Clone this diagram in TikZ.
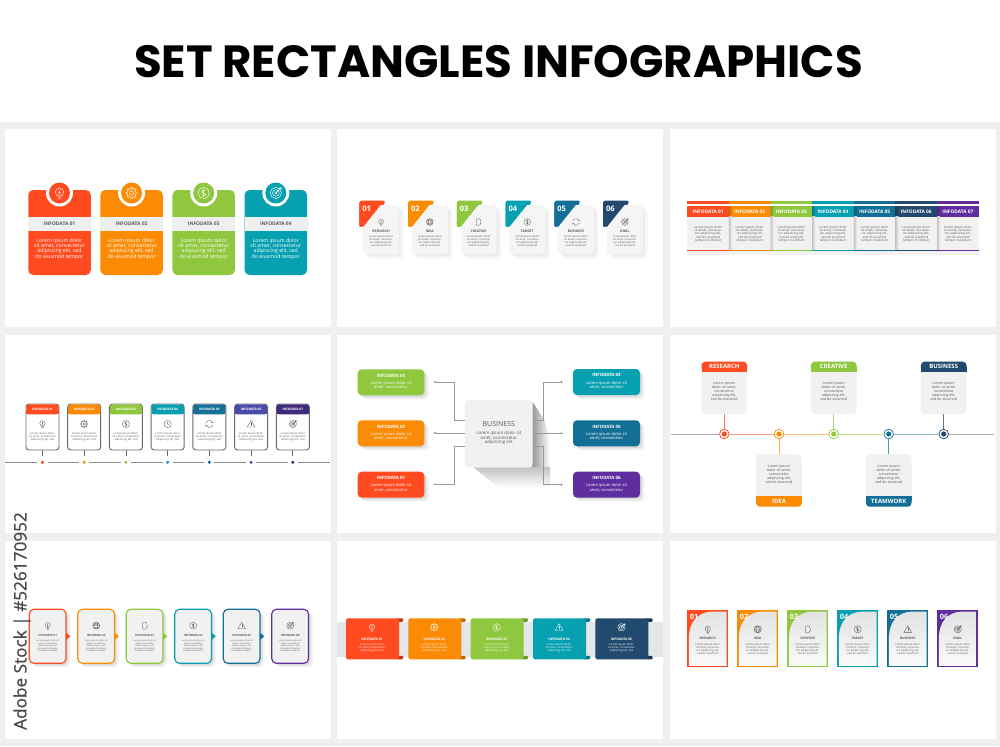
\documentclass[tikz,border=0pt]{standalone}
\usepackage{fontspec}
\setmainfont{Open Sans}
\newfontfamily\titlef{Poppins}
\newfontfamily\stockf[FakeBold=0.6]{Open Sans}
\usetikzlibrary{calc}
\definecolor{cred}{HTML}{FF4B1F}
\definecolor{corange}{HTML}{FB8B05}
\definecolor{cgreen}{HTML}{8FC73E}
\definecolor{cteal}{HTML}{06A0B0}
\definecolor{cblue}{HTML}{146F96}
\definecolor{cnavy}{HTML}{224A6E}
\definecolor{cindigo}{HTML}{4B4BA8}
\definecolor{cpurple}{HTML}{5E2E9E}
\definecolor{cdpurple}{HTML}{3F2A7A}
\definecolor{cgutter}{HTML}{EFEFEF}
\definecolor{cpale}{HTML}{F1F1F1}
\definecolor{cstrip}{HTML}{E4E6E8}
\definecolor{ctxt}{HTML}{5A5A5A}
\newcommand\fz[2]{\fontsize{#1}{#2}\selectfont}
% icons: unit radius, y points down
\newcommand\icbulb{\draw (0,-.15) circle[radius=.75]; \draw (-.35,.8)--(.35,.8) (-.22,1.05)--(.22,1.05) (.12,-.55)--(-.12,-.1)--(.12,-.1)--(-.1,.3);}
\newcommand\icgear{\draw (0,0) circle[radius=.36]; \foreach \a in {0,45,...,315}{\draw[line cap=round,line join=round] ({\a-22.5}:.74) -- ({\a-11}:.74) -- ({\a-8}:1.02) -- ({\a+8}:1.02) -- ({\a+11}:.74) -- ({\a+22.5}:.74);}}
\newcommand\icdollar{\draw (0,0) circle[radius=1]; \draw (.32,-.35) .. controls (.1,-.6) and (-.4,-.5) .. (-.35,-.2) .. controls (-.3,.05) and (.35,-.05) .. (.35,.25) .. controls (.35,.55) and (-.2,.55) .. (-.35,.3) (0,-.7)--(0,.7);}
\newcommand\ictarget{\draw (0,0) circle[radius=1] (0,0) circle[radius=.6] (0,0) circle[radius=.22]; \draw (0,0)--(1,-1) (.7,-1.05)--(.75,-.75)--(1.05,-.7);}
\newcommand\icglobe{\draw (0,0) circle[radius=1] (0,0) ellipse[x radius=.45,y radius=1] (-1,0)--(1,0) (-.88,-.45)--(.88,-.45) (-.88,.45)--(.88,.45);}
\newcommand\icclock{\draw (0,0) circle[radius=1]; \draw (0,-.6)--(0,0)--(.4,.3);}
\newcommand\icrefresh{\draw (.95,.3) arc[start angle=18,end angle=150,radius=1]; \draw (-.95,-.3) arc[start angle=198,end angle=330,radius=1]; \draw (-1.15,.25)--(-.87,.5)--(-.55,.3) (1.15,-.25)--(.87,-.5)--(.55,-.3);}
\newcommand\icwarn{\draw[line join=round] (0,-1)--(1.1,.85)--(-1.1,.85)--cycle; \draw (0,-.35)--(0,.25) (0,.5)--(0,.55);}
\newcommand\icdoc{\draw[rounded corners=.8pt] (-.6,1)--(-.7,-.2) .. controls (-.7,-1.2) and (.6,-1.2) .. (.65,-.2)--(.8,.45)--(.45,.5)--(.4,1)--cycle;}
% \icn{type}{x}{y}{size}{colour}{line width}
\newcommand\icn[6]{\begin{scope}[shift={(#2,#3)},scale=#4,color=#5,line width=#6,line cap=round]\csname ic#1\endcsname\end{scope}}
\tikzset{
 cardbox/.style={rectangle,inner sep=0pt,outer sep=0pt,anchor=north west},
 txt/.style={inner sep=0pt,outer sep=0pt,align=center,text=ctxt},
 softshadow/.style={
  preaction={fill=black,fill opacity=.04,transform canvas={xshift=4.5pt,yshift=-4pt}},
  preaction={fill=black,fill opacity=.05,transform canvas={xshift=3pt,yshift=-3pt}},
  preaction={fill=black,fill opacity=.06,transform canvas={xshift=1.5pt,yshift=-1.5pt}}},
 lightshadow/.style={
  preaction={fill=black,fill opacity=.02,transform canvas={xshift=5pt,yshift=-5pt}},
  preaction={fill=black,fill opacity=.025,transform canvas={xshift=3.5pt,yshift=-3.5pt}},
  preaction={fill=black,fill opacity=.03,transform canvas={xshift=2pt,yshift=-2pt}}},
 panelbox/.style={fill=white,draw=none},
}
\begin{document}
\begin{tikzpicture}[x=1pt,y=-1pt]
\useasboundingbox (0,0) rectangle (1000,746);
\fill[white] (0,0) rectangle (1000,746);
\fill[cgutter] (0,122) rectangle (1000,746);
\foreach \px/\py in {5/129,337/129,670/129,5/335,337/335,670/335,5/541,337/541,670/541}{
 \fill[panelbox] (\px,\py) rectangle ++(326,198);
}
\node[inner sep=0pt] (title) at (498.5,61.5) {\titlef\bfseries\fz{45.1}{50}SET RECTANGLES INFOGRAPHICS};

% ---------- panel 1
\foreach \i/\cc/\ic in {1/cred/bulb,2/corange/gear,3/cgreen/dollar,4/cteal/target}{
 \pgfmathsetmacro\xc{59.5+72.1*(\i-1)}
 \node[cardbox,fill=\cc,rounded corners=5pt,minimum width=62.5pt,minimum height=85pt] (ac\i) at (\xc-31.25,190) {};
 \fill[cgutter] (\xc-31.25,217.3) rectangle (\xc+31.25,231);
 \node[circle,fill=white,inner sep=0pt,minimum size=27pt] (ar\i) at (\xc,193) {};
 \node[circle,fill=\cc,inner sep=0pt,minimum size=21pt] (ai\i) at (\xc,193) {};
 \icn{\ic}{\xc}{193}{5.6}{white}{.45pt}
 \node[txt,font=\bfseries\fz{4.9}{6}] (al\i) at (\xc,224) {INFODATA 0\i};
 \node[txt,text=white,font=\fz{5.2}{5.33}] (at\i) at (\xc,248.7) {Lorem ipsum dolor\\sit amet, consectetur\\adipiscing elit, sed\\do eiusmod tempor};
}

% ---------- panel 2
\foreach \i/\cc/\ic/\lab in {1/cred/bulb/RESEARCH,2/corange/globe/IDEA,3/cgreen/doc/CREATIVE,4/cteal/dollar/TARGET,5/cblue/refresh/BUSINESS,6/cnavy/target/GOAL}{
 \pgfmathsetmacro\xo{359.3+48.75*(\i-1)}
 \pgfmathsetmacro\xm{\xo+21.7}
 \fill[\cc,rounded corners=1.5pt] (\xo,200.7) -- (\xo+25.8,200.7) -- (\xo+25.8,203) -- (\xo+4.3,226.7) -- (\xo,226.7) -- cycle;
 \node[cardbox,fill=cpale!70!white,rounded corners=3pt,lightshadow,minimum width=36pt,minimum height=49pt] (bc\i) at (\xo+3.7,205) {};
 \fill[\cc] (\xo,203) -- (\xo+23,203) -- (\xo+4,226.7) -- (\xo,226.7) -- cycle;
 \node[txt,text=white,font=\bfseries\fz{7.6}{9}] (bn\i) at (\xo+7.4,209) {0\i};
 \icn{\ic}{\xm}{222}{3.4}{ctxt}{.3pt}
 \node[txt,font=\bfseries\fz{3.4}{4}] (bl\i) at (\xm,231) {\lab};
 \node[txt,font=\fz{2.7}{3}] (bt\i) at (\xm,241) {Lorem ipsum dolor\\sit amet, consecte-\\tur adipiscing elit,\\sed do eiusmod};
}

% ---------- panel 3
\foreach \i/\cc in {1/cred,2/corange,3/cgreen,4/cteal,5/cblue,6/cnavy,7/cpurple}{
 \pgfmathsetmacro\xo{687.3+41.63*(\i-1)}
 \pgfmathsetmacro\xm{\xo+20.8}
 \fill[cpale] (\xo,216.7) rectangle ++(41.63,38);
 \fill[\cc] (\xo,200.7) rectangle ++(41.63,3.3);
 \fill[\cc] (\xo,249.6) rectangle ++(41.63,1.3);
 \node[cardbox,fill=\cc,minimum width=41.63pt,minimum height=10.7pt] (ch\i) at (\xo,206) {};
 \ifnum\i>1
  \shade[left color=black!22!\cc,right color=\cc] (\xo,206) rectangle ++(3,10.7);
  \shade[left color=black!18!cpale,right color=cpale] (\xo,216.7) rectangle ++(3,33);
 \fi
 \node[txt,text=white,font=\bfseries\fz{4.8}{6}] (cl\i) at (ch\i) {INFODATA 0\i};
 \node[txt,font=\fz{3.15}{3.35}] (ct\i) at (\xm,234) {Lorem ipsum dolor\\sit amet, consecte-\\tur adipiscing elit,\\sed do eiusmod\\tempor incididunt};
}

% ---------- panel 4
\foreach \i/\cc/\ic in {1/cred/bulb,2/corange/gear,3/cgreen/dollar,4/cteal/clock,5/cblue/refresh,6/cindigo/warn,7/cdpurple/target}{
 \pgfmathsetmacro\xo{26+41.72*(\i-1)}
 \pgfmathsetmacro\xm{\xo+16.5}
 \node[cardbox,draw=ctxt!90,line width=.95pt,fill=white,rounded corners=3pt,minimum width=33pt,minimum height=46pt] (dc\i) at (\xo,404) {};
 \fill[\cc,rounded corners=2.4pt] (\xo+.4,404.4) -- (\xo+32.6,404.4) -- (\xo+32.6,414.3) -- (\xo+.4,414.3) -- cycle;
 \fill[\cc] (\xo+.4,410) rectangle (\xo+32.6,414.3);
 \node[txt,text=white,font=\bfseries\fz{3.2}{4}] (dl\i) at (\xm,409.3) {INFODATA 0\i};
 \icn{\ic}{\xm}{424}{3.6}{ctxt}{.35pt}
 \node[txt,font=\fz{2.75}{3}] (dt\i) at (\xm,436.7) {Lorem ipsum dolor\\sit amet, consectetur\\adipiscing elit, sed};
 \coordinate (ds\i) at (\xm,455.7);
 \draw[draw=ctxt!90,line width=.8pt] (dc\i.south) -- (ds\i);
 \node[circle,fill=\cc,inner sep=0pt,minimum size=3.4pt,outer sep=3.4pt] (dd\i) at (\xm,462.3) {};
}
\coordinate (de0) at (5,462.3);
\coordinate (de8) at (330,462.3);
\tikzset{timeline/.style={draw=ctxt!70,line width=.6pt}}
\draw[timeline] (de0) -- (dd1);
\foreach \i/\j in {1/2,2/3,3/4,4/5,5/6,6/7}{\draw[timeline] (dd\i) -- (dd\j);}
\draw[timeline] (dd7) -- (de8);

% ---------- panel 5
\shade[left color=black!40,right color=white,draw=none] (532.7,402) -- (544.5,420.5) -- (550,440) -- (550,468) -- (532.7,468) -- cycle;
\shade[top color=black!24,bottom color=white,draw=none] (473,467) -- (499,488) -- (550,488) -- (550,467) -- cycle;
\node[cardbox,fill=cpale,rounded corners=4pt,minimum width=67.7pt,minimum height=67.3pt,draw=black!5,line width=.3pt] (core) at (465,400) {};
\node[txt,font=\fz{7}{8}] (coret) at (498.8,424) {BUSINESS};
\node[txt,font=\fz{4.4}{4.7}] (corex) at (498.8,438) {Lorem ipsum dolor sit\\amet, consectetur\\adipiscing elit};
\foreach \n/\yy/\cc/\lab/\yb in {1/369.3/cgreen/03/420.7,2/420.3/corange/02/433.3,3/471.7/cred/01/446.3}{
 \node[cardbox,fill=\cc,rounded corners=4pt,softshadow,minimum width=66.6pt,minimum height=26pt] (el\n) at (357.7,\yy) {};
 \node[txt,text=white,font=\bfseries\fz{4.4}{5}] (ell\n) at (391,\yy+6.4) {INFODATA \lab};
 \node[txt,text=white,font=\fz{4}{4.5}] (elt\n) at (391,\yy+16) {Lorem ipsum dolor sit\\amet, consectetur};
 \node[circle,fill=ctxt,inner sep=0pt,minimum size=1.6pt] (edl\n) at (435,\yy+12.7) {};
 \coordinate (ebl\n) at (454.3,\yb);
 \draw[draw=black!40,line width=.45pt] (edl\n) -| (ebl\n) -- (ebl\n -| core.west);
}
\foreach \n/\yy/\cc/\lab/\yb in {1/369/cteal/04/420.7,2/420.3/cblue/05/433.3,3/471.7/cpurple/06/446.3}{
 \node[cardbox,fill=\cc,rounded corners=4pt,softshadow,minimum width=67pt,minimum height=26pt] (er\n) at (573,\yy) {};
 \node[txt,text=white,font=\bfseries\fz{4.4}{5}] (erl\n) at (606.5,\yy+6.4) {INFODATA \lab};
 \node[txt,text=white,font=\fz{4}{4.5}] (ert\n) at (606.5,\yy+16) {Lorem ipsum dolor sit\\amet, consectetur};
 \node[circle,fill=ctxt,inner sep=0pt,minimum size=1.6pt] (edr\n) at (561.7,\yy+13) {};
 \coordinate (ebr\n) at (543.3,\yb);
 \draw[draw=black!40,line width=.45pt] (edr\n) -| (ebr\n) -- (ebr\n -| core.east);
}

% ---------- panel 6
\coordinate (fe0) at (671,434);
\coordinate (fe6) at (994,434);
\foreach \i/\cc/\xm/\lab/\side in {1/cred/724.3/RESEARCH/0,2/corange/779/IDEA/1,3/cgreen/833.7/CREATIVE/0,4/cblue/888.7/TEAMWORK/1,5/cnavy/943.7/BUSINESS/0}{
 \node[circle,draw=\cc,line width=.7pt,fill=white,inner sep=0pt,minimum size=9.6pt] (fd\i) at (\xm,434) {};
 \node[circle,fill=\cc,inner sep=0pt,minimum size=5.2pt] (fo\i) at (\xm,434) {};
 \ifnum\side=0
  \node[cardbox,fill=cpale,rounded corners=4pt,minimum width=45.6pt,minimum height=52.3pt] (fc\i) at (\xm-22.8,361.7) {};
  \fill[\cc,rounded corners=3.6pt] (\xm-22.8,371.7) -- (\xm-22.8,361.7) -- (\xm+22.8,361.7) -- (\xm+22.8,371.7) -- cycle;
  \fill[\cc] (\xm-22.8,367) rectangle (\xm+22.8,371.7);
  \node[txt,text=white,font=\bfseries\fz{6}{7}] (fl\i) at (\xm,366.7) {\lab};
  \node[txt,font=\fz{3.6}{4}] (ft\i) at (\xm,391.3) {Lorem ipsum\\dolor sit amet,\\consectetur\\adipiscing elit,\\sed do eiusmod};
  \draw[\cc!75!white,line width=.9pt] (fc\i.south) -- (fd\i);
 \else
  \node[cardbox,fill=cpale,rounded corners=4pt,minimum width=45.6pt,minimum height=52.7pt] (fc\i) at (\xm-22.8,454) {};
  \fill[\cc,rounded corners=3.6pt] (\xm-22.8,496) -- (\xm-22.8,506.7) -- (\xm+22.8,506.7) -- (\xm+22.8,496) -- cycle;
  \fill[\cc] (\xm-22.8,496) rectangle (\xm+22.8,501);
  \node[txt,text=white,font=\bfseries\fz{6}{7}] (fl\i) at (\xm,501) {\lab};
  \node[txt,font=\fz{3.6}{4}] (ft\i) at (\xm,474) {Lorem ipsum\\dolor sit amet,\\consectetur\\adipiscing elit,\\sed do eiusmod};
  \draw[\cc!75!white,line width=.9pt] (fc\i.north) -- (fd\i);
 \fi
}
\draw[draw=black!32,line width=.9pt] (fe0) -- (fd1);
\draw[draw=cred!55!white,line width=.9pt] (fd1) -- (fd2);
\draw[draw=corange!55!white,line width=.9pt] (fd2) -- (fd3);
\draw[draw=cgreen!55!white,line width=.9pt] (fd3) -- (fd4);
\draw[draw=cblue!50!white,line width=.9pt] (fd4) -- (fd5);
\draw[draw=black!32,line width=.9pt] (fd5) -- (fe6);

% ---------- panel 7
\foreach \i/\cc/\ic in {1/cred/bulb,2/corange/globe,3/cgreen/doc,4/cteal/dollar,5/cblue/warn,6/cpurple/target}{
 \pgfmathsetmacro\xo{29.3+48.5*(\i-1)}
 \pgfmathsetmacro\xm{\xo+18.4}
 \node[cardbox,draw=\cc,line width=1.15pt,fill=cpale,rounded corners=4.5pt,softshadow,minimum width=36.7pt,minimum height=54pt] (gc\i) at (\xo,609.3) {};
 \ifnum\i<6
  \fill[\cc] (\xo+36.7,632.6) -- (\xo+41,636.3) -- (\xo+36.7,640) -- cycle;
 \fi
 \icn{\ic}{\xm}{625.7}{3.5}{ctxt}{.3pt}
 \node[txt,font=\bfseries\fz{2.9}{3.5}] (gl\i) at (\xm,635.7) {INFODATA 0\i};
 \node[txt,font=\fz{2.2}{2.5}] (gt\i) at (\xm,645.7) {Lorem ipsum dolor sit\\amet, consectetur\\adipiscing elit, sed\\do eiusmod tempor\\incididunt ut labore};
}

% ---------- panel 8
\fill[cstrip] (337,621.7) rectangle (663,656.7);
\foreach \i/\cc/\ic in {1/cred/bulb,2/corange/gear,3/cgreen/dollar,4/cteal/warn,5/cnavy/target}{
 \pgfmathsetmacro\xo{346+62.35*(\i-1)}
 \pgfmathsetmacro\xm{\xo+26}
 \fill[black!25!\cc,rounded corners=1.2pt] (\xo+50,618.3) -- (\xo+57.3,618.3) -- (\xo+57.3,621.8) -- (\xo+50,621.8) -- cycle;
 \fill[black!25!\cc,rounded corners=1.2pt] (\xo+50,655.8) -- (\xo+57.3,655.8) -- (\xo+57.3,659.3) -- (\xo+50,659.3) -- cycle;
 \node[cardbox,fill=\cc,rounded corners=1.5pt,minimum width=53pt,minimum height=41pt] (hc\i) at (\xo,618.3) {};
 \icn{\ic}{\xm}{627.3}{3.7}{white}{.35pt}
 \node[txt,text=white,font=\bfseries\fz{3.3}{4}] (hl\i) at (\xm,639.3) {INFODATA 0\i};
 \node[txt,text=white,font=\fz{2.75}{3}] (ht\i) at (\xm,648) {Lorem ipsum dolor\\sit amet, consectetur\\adipiscing elit, sed};
}

% ---------- panel 9
\foreach \i/\cc/\ic/\lab in {1/cred/bulb/RESEARCH,2/corange/globe/IDEA,3/cgreen/doc/CREATIVE,4/cteal/dollar/TARGET,5/cblue/warn/BUSINESS,6/cpurple/target/GOAL}{
 \pgfmathsetmacro\xo{687.3+50*(\i-1)}
 \pgfmathsetmacro\xm{\xo+20.4}
 \node[cardbox,fill=\cc,minimum width=41pt,minimum height=57.3pt] (ic\i) at (\xo,610) {};
 \shade[top color=black!11,bottom color=black!2] (\xo+1.6,665.8) -- (\xo+1.6,637) .. controls (\xo+2,622) and (\xo+10,612.5) .. (\xo+24,611.6) -- (\xo+39.4,611.6) -- (\xo+39.4,665.8) -- cycle;
 \node[txt,text=white,font=\bfseries\fz{7.4}{9}] (in\i) at (\xo+6.8,616.8) {0\i};
 \icn{\ic}{\xm}{629.3}{3.6}{ctxt}{.35pt}
 \node[txt,font=\bfseries\fz{3.2}{4}] (il\i) at (\xm,638.7) {\lab};
 \node[txt,font=\fz{2.75}{3}] (it\i) at (\xm,649) {Lorem ipsum dolor\\sit amet, consecte-\\tur adipiscing elit,\\sed do eiusmod};
}

% ---------- stock mark
\node[inner sep=0pt,rotate=90,text=black!72,font=\stockf\fz{17.2}{20}] (stock) at (22,621) {Adobe Stock | \#526170952};
\end{tikzpicture}
\end{document}
